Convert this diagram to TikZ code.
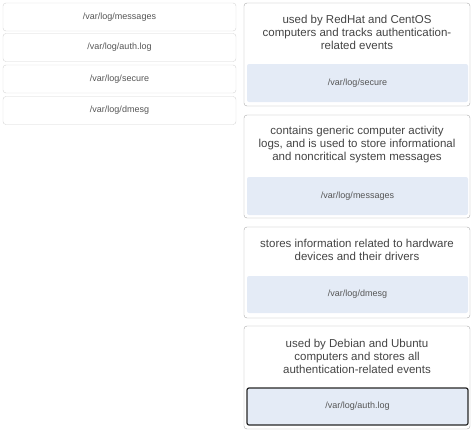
\documentclass[tikz,border=0pt]{standalone}
\usepackage{fontspec}
\setmainfont{Liberation Sans}
\usetikzlibrary{positioning}
\definecolor{boxgray}{HTML}{D4D4D4}
\definecolor{cardgray}{HTML}{AAAAAA}
\definecolor{slotblue}{HTML}{E4EBF6}
\definecolor{txtdark}{HTML}{444444}
\definecolor{txtsoft}{HTML}{555555}
\tikzset{
  logbox/.style = {draw=boxgray, rounded corners=3pt, minimum width=233pt, minimum height=28pt, inner sep=0pt, font=\fontsize{9}{11}\selectfont, text=txtsoft},
  card/.style = {draw=cardgray, rounded corners=3pt, minimum width=226pt, inner sep=0pt},% right column, one per description
  slot/.style = {fill=slotblue, rounded corners=2pt, minimum width=221pt, inner sep=0pt, font=\fontsize{9}{11}\selectfont, text=txtsoft},
  picked/.style = {slot, draw=black!85, line width=1.2pt},
  desc/.style = {align=center, inner sep=0pt, font=\fontsize{11.5}{13}\selectfont, text=txtdark}
}

\begin{document}
\begin{tikzpicture}[x=1pt, y=-1pt]
\useasboundingbox (0,0) rectangle (474,432);
% left column
\node [logbox] (l1) at (119.5,17) {/var/log/messages};
\node [logbox] (l2) at (119.5,47.5) {/var/log/auth.log};
\node [logbox] (l3) at (119.5,79) {/var/log/secure};
\node [logbox] (l4) at (119.5,110.5) {/var/log/dmesg};
% right column
\node [card, minimum height=103pt] (c1) at (357,54.5) {};
\node [desc] (d1) at (357,32.5) {used by RedHat and CentOS\\computers and tracks authentication-\\related events};
\node [slot, minimum height=38pt] (s1) at (357.5,83) {/var/log/secure};

\node [card, minimum height=103pt] (c2) at (357,166.5) {};
\node [desc] (d2) at (357,145) {contains generic computer activity\\logs, and is used to store informational\\and noncritical system messages};
\node [slot, minimum height=38pt] (s2) at (357.5,196) {/var/log/messages};

\node [card, minimum height=91pt] (c3) at (357,272.5) {};
\node [desc] (d3) at (357,249.5) {stores information related to hardware\\devices and their drivers};
\node [slot, minimum height=37pt] (s3) at (357.5,294.5) {/var/log/dmesg};

\node [card, minimum height=103pt] (c4) at (357,377.5) {};
\node [desc] (d4) at (357,356) {used by Debian and Ubuntu\\computers and stores all\\authentication-related events};
\node [picked, minimum height=37pt] (s4) at (357.5,406.5) {/var/log/auth.log};
\end{tikzpicture}
\end{document}
